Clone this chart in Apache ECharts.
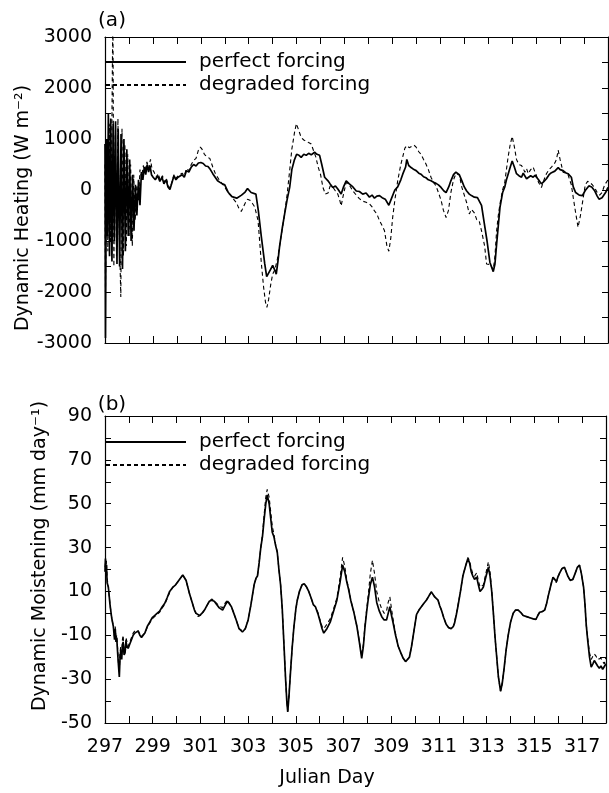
<!DOCTYPE html>
<html>
<head>
<meta charset="utf-8">
<script src="https://cdn.jsdelivr.net/npm/echarts@6/dist/echarts.min.js"></script>
<style>
html,body{margin:0;padding:0;background:#fff;}
#c{width:609px;height:793px;}
</style>
</head>
<body>
<div id="c"></div>
<script>
// ---------- Panel (a): Dynamic Heating (W m-2) ----------
const heatPerfectDays = [
  297.00,297.02,297.06,297.10,297.14,297.19,297.24,297.29,297.34,297.39,
  297.44,297.50,297.55,297.61,297.67,297.73,297.79,297.85,297.91,297.97,
  298.03,298.09,298.15,298.21,298.27,298.33,298.40,298.46,298.52,298.58,
  298.64,298.70,298.76,298.82,298.88,298.94,299.01,299.10,299.20,299.29,
  299.38,299.46,299.55,299.63,299.71,299.80,299.88,299.96,300.05,300.13,
  300.22,300.31,300.40,300.50,300.60,300.70,300.80,300.90,301.00,301.10,
  301.20,301.30,301.40,301.50,301.60,301.70,301.80,301.90,302.00,302.15,
  302.30,302.50,302.70,302.85,302.95,303.10,303.30,303.40,303.53,303.67,
  303.75,303.83,303.92,304.00,304.08,304.15,304.22,304.29,304.40,304.50,
  304.60,304.71,304.80,304.90,305.00,305.10,305.19,305.30,305.40,305.50,
  305.61,305.75,305.85,305.96,306.05,306.17,306.31,306.40,306.51,306.62,
  306.72,306.86,306.95,307.07,307.20,307.35,307.49,307.62,307.76,307.90,
  308.04,308.15,308.25,308.35,308.46,308.57,308.70,308.85,308.95,309.10,
  309.22,309.35,309.43,309.55,309.60,309.68,309.78,309.90,309.99,310.10,
  310.19,310.30,310.40,310.50,310.61,310.72,310.82,310.92,311.03,311.15,
  311.24,311.35,311.44,311.55,311.65,311.72,311.79,311.90,312.00,312.10,
  312.21,312.30,312.42,312.55,312.62,312.72,312.85,312.95,313.07,313.14,
  313.21,313.28,313.35,313.42,313.49,313.60,313.69,313.76,313.83,313.92,
  314.00,314.09,314.18,314.28,314.39,314.46,314.53,314.60,314.67,314.77,
  314.875,314.95,315.00,315.10,315.22,315.33,315.43,315.54,315.64,315.78,
  315.92,316.00,316.125,316.23,316.33,316.40,316.47,316.55,316.65,316.80,
  316.93,317.05,317.20,317.32,317.45,317.55,317.625,317.75,317.90,318.00
];
const heatPerfect = [
  900,-2900,1000,-900,1500,-1300,1400,-1400,1300,-1000,
  1350,-1450,1200,-1500,1100,-1550,1000,-1200,800,-900,
  600,-1000,300,-800,100,-500,200,-300,350,200,
  450,300,500,350,480,300,250,200,280,170,
  250,120,200,60,10,150,280,200,250,240,
  300,250,380,350,450,500,470,530,540,520,
  470,460,400,320,250,180,150,120,100,-50,
  -130,-160,-100,-40,30,-50,-80,-400,-930,-1450,
  -1700,-1680,-1550,-1480,-1560,-1650,-1400,-1100,-750,-470,
  -200,50,400,580,700,680,640,700,680,720,
  690,740,700,680,500,250,180,120,50,80,
  20,-80,50,180,120,60,-20,-30,-80,-60,
  -140,-100,-160,-120,-110,-150,-180,-300,-180,0,
  60,200,310,450,600,480,440,400,380,330,
  310,260,240,200,180,150,130,100,50,-20,
  -50,60,180,300,350,340,300,180,60,-20,
  -80,-110,-140,-150,-160,-300,-700,-1000,-1420,-1450,
  -1600,-1450,-1060,-700,-340,-50,60,200,310,450,
  570,450,320,280,250,330,300,220,210,280,
  250,290,310,200,120,170,220,300,340,370,
  440,400,380,340,320,310,250,60,-50,-100,
  -110,-10,80,60,-20,-120,-180,-150,-50,50
];
const heatDegradedDays = [
  297.00,297.02,297.07,297.12,297.18,297.23,297.28,297.33,297.37,297.43,
  297.48,297.54,297.60,297.66,297.71,297.77,297.83,297.89,297.95,298.01,
  298.07,298.14,298.20,298.26,298.33,298.40,298.46,298.53,298.60,298.67,
  298.75,298.82,298.90,298.96,299.05,299.14,299.22,299.30,299.40,299.48,
  299.56,299.65,299.72,299.80,299.88,299.96,300.05,300.13,300.22,300.31,
  300.40,300.50,300.60,300.70,300.80,300.90,300.98,301.05,301.15,301.25,
  301.375,301.50,301.60,301.70,301.80,301.90,302.00,302.15,302.28,302.40,
  302.49,302.58,302.69,302.78,302.86,302.95,303.05,303.15,303.25,303.39,
  303.53,303.62,303.70,303.76,303.83,303.92,304.00,304.10,304.20,304.29,
  304.40,304.50,304.60,304.71,304.80,304.92,304.99,305.08,305.19,305.30,
  305.40,305.50,305.61,305.70,305.80,305.90,306.00,306.10,306.20,306.31,
  306.40,306.51,306.62,306.72,306.80,306.86,306.95,307.07,307.20,307.35,
  307.49,307.62,307.76,307.90,308.04,308.15,308.25,308.35,308.46,308.57,
  308.67,308.77,308.85,308.93,309.01,309.10,309.22,309.35,309.43,309.52,
  309.60,309.70,309.78,309.90,309.99,310.10,310.19,310.30,310.40,310.50,
  310.61,310.72,310.82,310.92,311.03,311.13,311.24,311.34,311.44,311.55,
  311.65,311.72,311.79,311.90,312.00,312.10,312.21,312.30,312.42,312.52,
  312.62,312.72,312.85,312.93,313.07,313.14,313.21,313.28,313.35,313.42,
  313.49,313.60,313.69,313.76,313.83,313.92,314.00,314.09,314.18,314.28,
  314.39,314.46,314.53,314.60,314.67,314.77,314.875,314.95,315.00,315.10,
  315.22,315.33,315.43,315.54,315.64,315.78,315.85,315.92,316.00,316.125,
  316.23,316.33,316.40,316.47,316.55,316.65,316.75,316.85,316.95,317.05,
  317.15,317.24,317.35,317.45,317.55,317.65,317.75,317.86,318.00
];
const heatDegraded = [
  500,-2000,800,-1200,1300,-1000,900,3600,-1500,1100,
  -1300,1400,-900,-2100,1200,-1300,900,-1100,700,-900,
  500,-1100,300,-600,100,-200,400,250,480,380,
  550,430,600,420,350,250,320,200,280,150,
  230,80,30,170,300,230,280,250,330,280,
  420,380,500,580,620,780,840,800,700,650,
  620,450,330,250,170,120,60,-60,-120,-200,
  -250,-350,-420,-330,-250,-180,-200,-260,-330,-600,
  -1450,-1900,-2200,-2300,-2150,-1850,-1650,-1550,-1350,-1100,
  -760,-470,-100,380,800,1150,1300,1180,1030,980,
  960,930,900,780,650,450,300,50,-80,-60,
  80,60,-20,-80,-200,-310,-100,150,100,-20,
  -100,-170,-220,-240,-270,-330,-410,-470,-600,-700,
  -800,-1100,-1200,-950,-540,-200,180,500,650,820,
  870,830,800,880,840,750,700,600,510,400,
  250,150,80,-50,-200,-400,-540,-400,-50,200,
  320,330,300,50,-100,-250,-470,-380,-450,-580,
  -600,-800,-1100,-1450,-1460,-1480,-1560,-1300,-800,-500,
  -270,0,150,400,650,900,1050,850,600,500,
  480,420,350,420,320,400,450,350,300,150,
  50,200,320,400,450,530,600,780,600,350,
  330,300,200,100,-150,-450,-730,-500,-200,100,
  170,150,100,40,-50,-100,-50,100,200
];

// ---------- Panel (b): Dynamic Moistening (mm day-1) ----------
const moistDays = [
  297.00,297.02,297.04,297.06,297.09,297.14,297.21,297.28,297.35,297.40,
  297.43,297.46,297.49,297.53,297.56,297.60,297.63,297.66,297.70,297.73,
  297.76,297.80,297.84,297.88,297.92,297.97,298.04,298.11,298.18,298.25,
  298.32,298.39,298.46,298.53,298.60,298.67,298.77,298.875,298.98,299.08,
  299.18,299.29,299.40,299.50,299.60,299.71,299.85,299.96,300.06,300.16,
  300.26,300.33,300.40,300.47,300.54,300.61,300.68,300.75,300.82,300.90,
  300.96,301.06,301.17,301.27,301.375,301.47,301.58,301.68,301.79,301.93,
  302.05,302.14,302.21,302.30,302.40,302.50,302.62,302.76,302.88,303.00,
  303.11,303.25,303.33,303.39,303.46,303.53,303.60,303.67,303.74,303.80,
  303.88,303.95,304.01,304.08,304.15,304.22,304.29,304.36,304.43,304.50,
  304.57,304.62,304.66,304.71,304.78,304.85,304.92,305.00,305.06,305.15,
  305.26,305.35,305.45,305.54,305.64,305.73,305.82,305.92,306.00,306.10,
  306.17,306.30,306.44,306.58,306.72,306.85,306.96,307.05,307.14,307.21,
  307.30,307.42,307.56,307.66,307.76,307.83,307.90,307.97,308.04,308.12,
  308.21,308.30,308.39,308.50,308.60,308.70,308.80,308.87,308.94,309.01,
  309.08,309.18,309.29,309.40,309.50,309.60,309.68,309.76,309.85,309.95,
  310.06,310.16,310.26,310.36,310.47,310.58,310.68,310.75,310.82,310.89,
  310.96,311.03,311.10,311.20,311.30,311.40,311.51,311.60,311.65,311.72,
  311.79,311.90,312.00,312.10,312.21,312.28,312.35,312.42,312.49,312.58,
  312.65,312.72,312.80,312.86,312.95,313.07,313.14,313.21,313.28,313.35,
  313.42,313.49,313.58,313.65,313.73,313.81,313.90,314.00,314.11,314.21,
  314.32,314.42,314.53,314.67,314.81,314.95,315.06,315.14,315.22,315.33,
  315.43,315.50,315.57,315.67,315.74,315.78,315.85,315.92,316.00,316.06,
  316.16,316.26,316.33,316.40,316.50,316.61,316.70,316.80,316.89,316.97,
  317.06,317.12,317.17,317.24,317.31,317.38,317.45,317.51,317.58,317.65,
  317.72,317.79,317.86,317.93,318.00
];
const moistPerfect = [
  19,25,17,22,14,12,4,-2,-6,-12,
  -7,-13,-11,-18,-23,-29,-20,-17,-21,-15,
  -13,-19,-18,-13,-15,-16,-14,-12,-10,-9,
  -9,-8,-10,-11,-10,-9,-6,-4,-2,-1,
  0,1,3,4.5,7,10,12,13,14.5,16,
  17.5,17,15,12,9,6.5,4,1.5,0,-0.5,
  -1,0,1.5,3.5,5.5,6,5.5,4,2.5,1.5,
  4,5.5,6,3,0,-3,-7,-8.5,-7,-3,
  3.5,13,16,17,23,30,35,43,50,54,
  50,43,37,35,31,28,20,13,2,-14,
  -30,-40,-45,-38,-26,-15,-6,2,6,10,
  13,13.5,12,10,7,4,3,0,-3,-7,
  -9,-7,-4,1,6,14,22,19,14,11,
  6,1,-6,-13,-20.5,-15,-6,1,7,13,
  16.5,12,5,1,-1.5,-3,-3,0,3,-1,
  -4.5,-10,-15,-18,-20.5,-22,-22.5,-20,-15,-8,
  -0.5,1.5,3,4.5,6,8,9.8,9,7.5,8,
  6,3.5,1.5,-2,-5,-6.5,-7,-6,-4.5,-1,
  3,10,17,21,25,23,19,17,15.5,16.5,
  13,10,11,12,16,21,17,10,0,-11,
  -20,-29,-35.5,-32,-25,-17,-10,-4,0,1.5,
  1.5,0.5,-1,-1.5,-2,-2.5,-2.8,-1,0.5,0.8,
  1.5,4,7.5,12,15,16.5,15.5,14.5,17,18.5,
  20.5,21,19,17,15,15.5,18,21,22,18,
  12,4,-5,-13,-20,-24.5,-23,-21.5,-22,-24,
  -25,-24,-25.5,-26,-23
];
const moistDegraded = [
  21,23,19,24,16,12,4,-2,-6,-11,
  -6,-12,-10,-16,-22,-27,-18,-15,-19,-12,
  -10,-17,-16,-11,-13,-15,-13,-11,-9,-8,
  -8.5,-8,-9.5,-10.5,-10,-9,-6.5,-4.5,-2.5,-1.5,
  -0.5,0.5,2.5,4,6.5,9.5,12,13,14.5,16,
  17.5,17,15,12,9,6.5,4,1.5,-0.5,-1.5,
  -2,-0.5,1.5,3.5,5.5,6.5,6,4.5,3.5,2.5,
  5,6,6,3,0,-3,-7,-8,-7,-3,
  3.5,13,16,17,23,30,36,45,53,56.5,
  53,46,40,36,31.5,28,20,13,2,-14,
  -30,-40,-44.5,-38,-26,-15,-6,2,6,10,
  13,13.5,12,10,7,4,3,0.5,-2.5,-6,
  -7,-5,-2.5,2,7,16,25.5,21.5,15,11.5,
  6,1,-6,-12.5,-19.5,-14,-5,2,9,18,
  24.2,18,10,5,2,0,1,5,7.5,2,
  -3,-9.5,-15,-18,-20.5,-22,-22.5,-20,-15,-8,
  -0.5,1.5,3,4.5,6,8,9.8,9,7.5,8,
  6,3.5,1.5,-2,-5,-6.5,-7,-6,-4,-0.5,
  3.5,10,17,21,25.5,24,20.5,18,17,18.5,
  15,12,12.5,13,17.5,23.5,19,10.5,0,-11,
  -20,-29,-35.5,-32,-25,-17,-10,-4,0,1.5,
  1.5,0.5,-1,-1.5,-2,-2.5,-2.8,-1,0.5,0.8,
  1.5,4,7.5,12,15.5,16.5,15,14,17,18.5,
  20.5,21,19,17,15,15.5,18,21,22,18,
  12,4,-5,-12,-18,-21,-19.5,-18.5,-19.5,-21,
  -21.5,-20.5,-22,-23,-20
];

// Axis tick labels
const dayLabels = ['297','299','301','303','305','307','309','311','313','315','317'];
const heatLabels = ['3000','2000','1000','0','-1000','-2000','-3000'];
const moistLabels = ['90','70','50','30','10','-10','-30','-50'];

const seriesNames = ['perfect forcing', 'degraded forcing'];

function pairs(xs, ys) { return xs.map((x, i) => [x, ys[i]]); }

const FONT = 'DejaVu Sans';
const BLACK = '#000';

function xAxisDef(grid, pos, labels) {
  return {
    type: 'value', gridIndex: grid, position: pos, min: 297, max: 318, interval: 1,
    axisLine: { show: true, onZero: false, lineStyle: { color: BLACK, width: 1.2 } },
    axisTick: { show: true, inside: true, length: 7, lineStyle: { color: BLACK, width: 1 } },
    splitLine: { show: false },
    axisLabel: labels ? {
      show: true, margin: 15, color: BLACK, fontFamily: FONT, fontSize: 19,
      formatter: v => { const s = String(Math.round(v)); return dayLabels.indexOf(s) >= 0 ? s : ''; }
    } : { show: false }
  };
}
function yAxisDef(grid, pos, min, max, interval, labels) {
  return {
    type: 'value', gridIndex: grid, position: pos, min: min, max: max, interval: interval,
    axisLine: { show: true, onZero: false, lineStyle: { color: BLACK, width: 1.2 } },
    axisTick: { show: true, inside: true, length: 6, lineStyle: { color: BLACK, width: 1 } },
    splitLine: { show: false },
    axisLabel: labels ? {
      show: true, margin: 13, color: BLACK, fontFamily: FONT, fontSize: 19,
      formatter: v => { const s = String(Math.round(v)); return labels.indexOf(s) >= 0 ? s : ''; }
    } : { show: false }
  };
}

function legendDef(top) {
  return {
    left: 105, top: top, orient: 'vertical', padding: 0,
    itemWidth: 80, itemHeight: 14, itemGap: 3,
    data: seriesNames,
    selectedMode: false,
    itemStyle: { opacity: 0 },
    textStyle: { color: BLACK, fontFamily: FONT, fontSize: 20, padding: [0, 0, 0, 8] }
  };
}

const solidStyle = { color: BLACK, width: 1.7, type: 'solid' };
const dashStyle = { color: BLACK, width: 1.1, type: [4, 3] };

const chart = echarts.init(document.getElementById('c'), null, { renderer: 'canvas' });
chart.setOption({
  animation: false,
  backgroundColor: '#fff',
  grid: [
    { left: 105, top: 37, width: 503, height: 306 },
    { left: 105, top: 416, width: 503, height: 307 }
  ],
  xAxis: [
    xAxisDef(0, 'bottom', false),
    xAxisDef(0, 'top', false),
    xAxisDef(1, 'bottom', true),
    xAxisDef(1, 'top', false)
  ],
  yAxis: [
    yAxisDef(0, 'left', -3000, 3000, 500, heatLabels),
    yAxisDef(0, 'right', -3000, 3000, 500, null),
    yAxisDef(1, 'left', -50, 90, 10, moistLabels),
    yAxisDef(1, 'right', -50, 90, 10, null)
  ],
  legend: [legendDef(52), legendDef(432)],
  series: [
    { name: seriesNames[0], type: 'line', xAxisIndex: 0, yAxisIndex: 0, symbol: 'none', clip: true,
      data: pairs(heatPerfectDays, heatPerfect), lineStyle: solidStyle, itemStyle: { color: BLACK }, z: 3 },
    { name: seriesNames[1], type: 'line', xAxisIndex: 0, yAxisIndex: 0, symbol: 'none', clip: true,
      data: pairs(heatDegradedDays, heatDegraded), lineStyle: dashStyle, itemStyle: { color: BLACK }, z: 2 },
    { name: seriesNames[0], type: 'line', xAxisIndex: 2, yAxisIndex: 2, symbol: 'none', clip: true,
      data: pairs(moistDays, moistPerfect), lineStyle: solidStyle, itemStyle: { color: BLACK }, z: 3 },
    { name: seriesNames[1], type: 'line', xAxisIndex: 2, yAxisIndex: 2, symbol: 'none', clip: true,
      data: pairs(moistDays, moistDegraded), lineStyle: dashStyle, itemStyle: { color: BLACK }, z: 2 }
  ],
  graphic: [
    { type: 'text', x: 112, y: 21, style: { text: '(a)', font: '20px "DejaVu Sans"', fill: BLACK, align: 'center', verticalAlign: 'middle' } },
    { type: 'text', x: 112, y: 405, style: { text: '(b)', font: '20px "DejaVu Sans"', fill: BLACK, align: 'center', verticalAlign: 'middle' } },
    { type: 'text', x: 23, y: 208, rotation: Math.PI / 2, style: { text: 'Dynamic Heating (W m\u207B\u00B2)', font: '19px "DejaVu Sans"', fill: BLACK, align: 'center', verticalAlign: 'middle' } },
    { type: 'text', x: 40, y: 556, rotation: Math.PI / 2, style: { text: 'Dynamic Moistening (mm day\u207B\u00B9)', font: '19px "DejaVu Sans"', fill: BLACK, align: 'center', verticalAlign: 'middle' } },
    { type: 'text', x: 327, y: 778, style: { text: 'Julian Day', font: '19px "DejaVu Sans"', fill: BLACK, align: 'center', verticalAlign: 'middle' } }
  ]
});
</script>
</body>
</html>
